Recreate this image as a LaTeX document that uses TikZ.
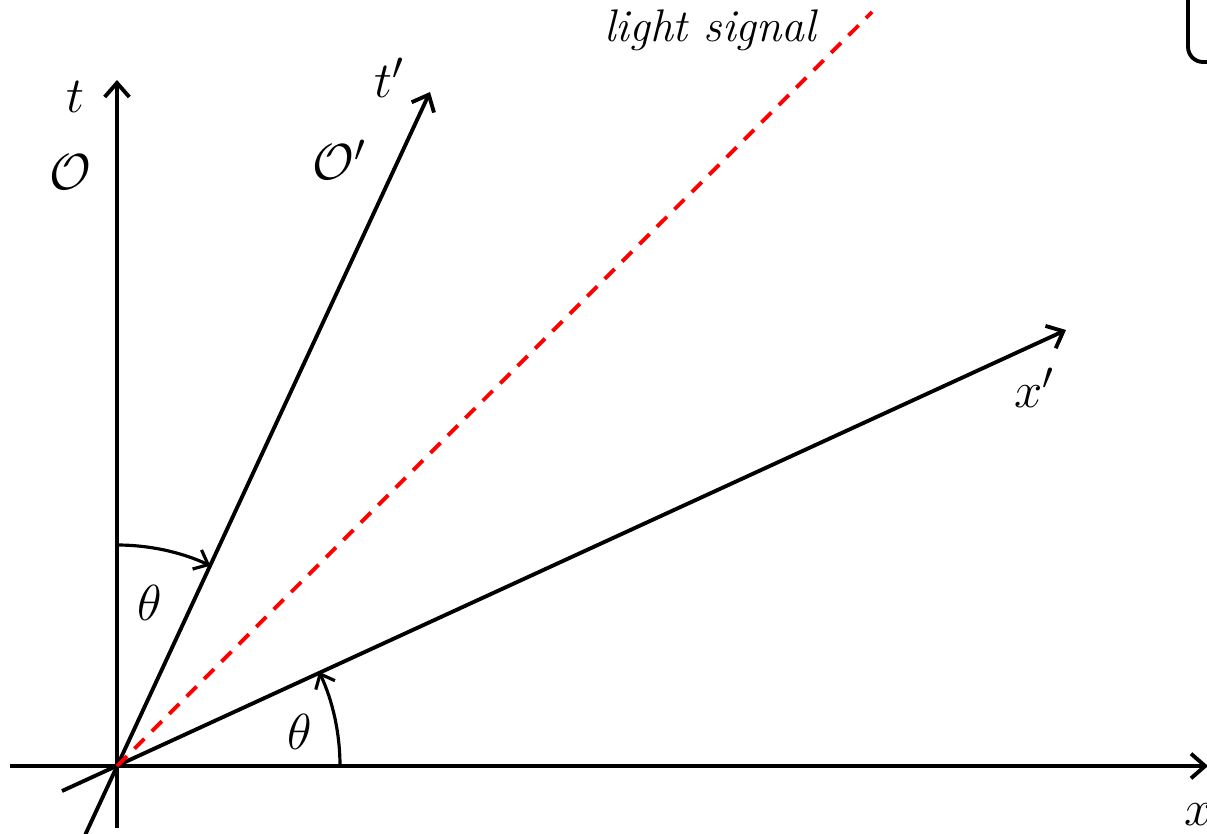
\documentclass[tikz,border=0pt]{standalone}
\usepackage{amsmath}
\usetikzlibrary{arrows.meta}
\begin{document}
\begin{tikzpicture}[
    x=0.01cm, y=0.01cm,
    axis/.style={line width=1.1pt, -{Straight Barb[length=4pt,width=7pt,line width=1.1pt]}},
    light/.style={red, line width=1.1pt, dash pattern=on 4pt off 3pt},
    turn/.style={line width=0.9pt, -{Straight Barb[length=3.5pt,width=6pt,line width=0.9pt]}},
    lbl/.style={font=\fontsize{15}{18}\selectfont, inner sep=0pt}
]
\useasboundingbox (-117,-67) rectangle (1090,766);
\clip (-117,-67) rectangle (1090,766);

% frame of O and of O'
\coordinate (origin) at (0,0);
\coordinate (tend) at (0,686);
\coordinate (tlow) at (0,-62);
\coordinate (xend) at (1091,0);
\coordinate (xlow) at (-107,0);
\coordinate (tpend) at (313,674);
\coordinate (tplow) at (-37,-80);
\coordinate (xpend) at (949,436);
\coordinate (xplow) at (-55,-25);
\coordinate (lightend) at (755,754);

\draw[axis] (tlow) -- (tend);
\draw[axis] (xlow) -- (xend);
\draw[axis] (tplow) -- (tpend);
\draw[axis] (xplow) -- (xpend);
\draw[light] (origin) -- (lightend);

% the two angles
\draw[turn] (0,221) arc[start angle=90, end angle=65, radius=221];
\draw[turn] (223,0) arc[start angle=0, end angle=25, radius=223];

\node[lbl] (tlabel) at (-42,669) {$t$};
\node[lbl] (olabel) at (-47,594) {$\mathcal{O}$};
\node[lbl] (tplabel) at (273,688) {$t'$};
\node[lbl] (oplabel) at (223,606) {$\mathcal{O}'$};
\node[lbl, font=\fontsize{13}{16}\selectfont\itshape] (lightlabel) at (593,736) {light signal};
\node[lbl] (xplabel) at (918,378) {$x'$};
\node[lbl] (xlabel) at (1082,-49) {$x$};
\node[lbl] (thetat) at (33,163) {$\theta$};
\node[lbl] (thetax) at (183,34) {$\theta$};

% legend box, mostly off the page
\draw[line width=1.1pt, rounded corners=0.15cm] (1071,704) rectangle (1200,820);
\end{tikzpicture}
\end{document}
